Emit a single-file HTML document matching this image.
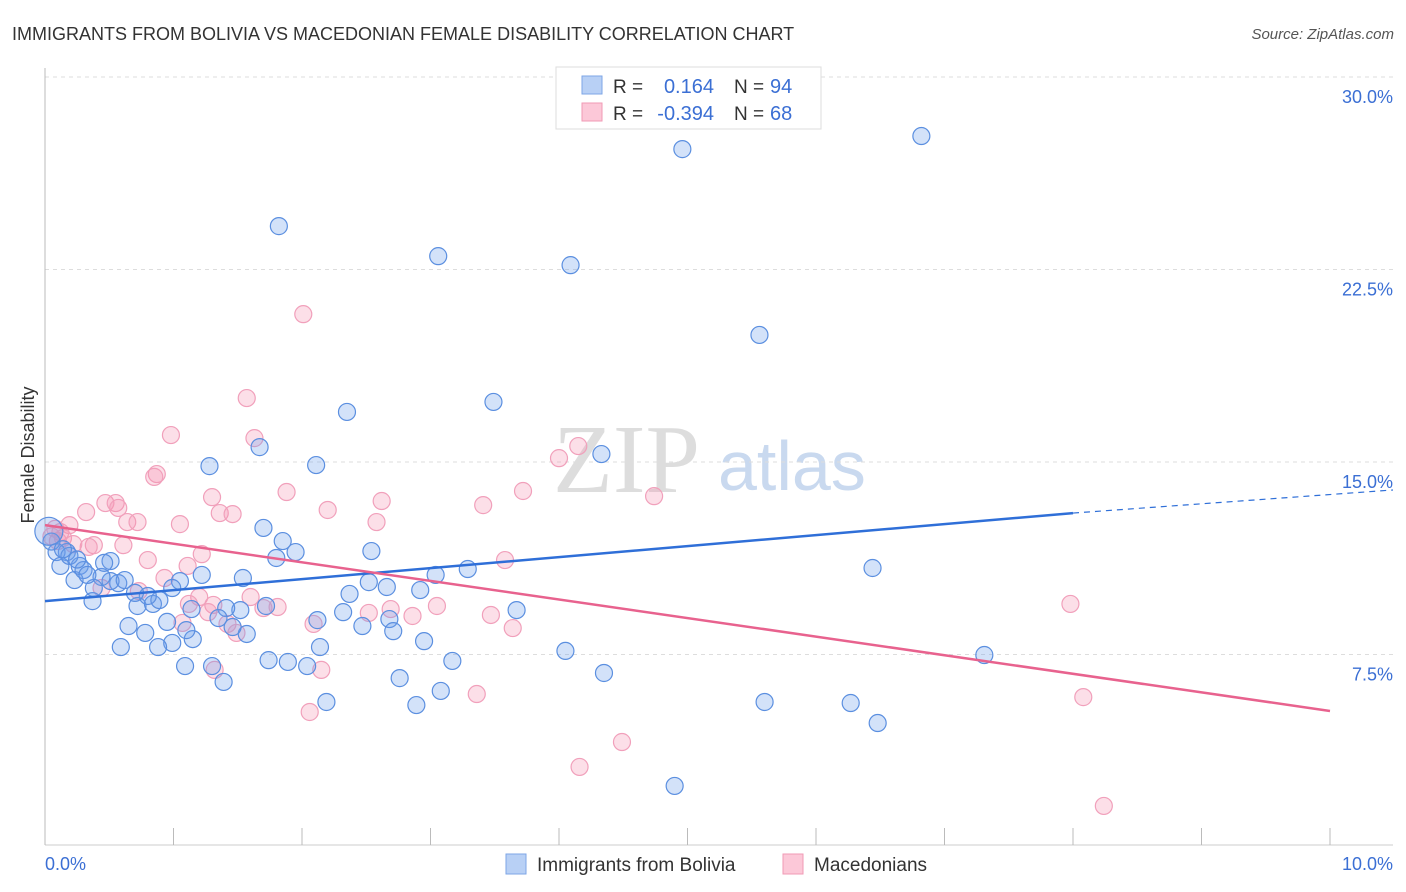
<!DOCTYPE html>
<html><head><meta charset="utf-8"><style>
body{margin:0;background:#fff;font-family:"Liberation Sans",sans-serif;}
svg{display:block}
</style></head><body>
<svg id="chart" width="1406" height="892" xmlns="http://www.w3.org/2000/svg">
<text x="12" y="40" font-size="18" fill="#333">IMMIGRANTS FROM BOLIVIA VS MACEDONIAN FEMALE DISABILITY CORRELATION CHART</text>
<text x="1394" y="39" font-size="15" fill="#555" font-style="italic" text-anchor="end">Source: ZipAtlas.com</text>
<g>
<text x="553" y="492" font-size="98" fill="#ddd" font-family="Liberation Serif,serif">ZIP</text>
<text x="718" y="490" font-size="70" fill="#c9d9ef">atlas</text>
</g>
<g id="grid"></g>
<g id="axes"></g>
<g id="pts"></g>
<g id="trend"></g>
<g>
<rect x="556" y="67" width="265" height="62" fill="#fff" stroke="#ddd"/>
<rect x="582" y="76" width="20" height="18" fill="#b8d0f5" stroke="#7ea6e6"/>
<rect x="582" y="103" width="20" height="18" fill="#fcc8d8" stroke="#f09ab5"/>
<text x="613" y="93" font-size="19" fill="#333">R =</text>
<text x="714" y="93" font-size="20" fill="#3b6fd4" text-anchor="end">0.164</text>
<text x="734" y="93" font-size="19" fill="#333">N =</text>
<text x="770" y="93" font-size="20" fill="#3b6fd4">94</text>
<text x="613" y="120" font-size="19" fill="#333">R =</text>
<text x="714" y="120" font-size="20" fill="#3b6fd4" text-anchor="end">-0.394</text>
<text x="734" y="120" font-size="19" fill="#333">N =</text>
<text x="770" y="120" font-size="20" fill="#3b6fd4">68</text>
</g>
<g>
<rect x="506" y="854" width="20" height="20" fill="#b8d0f5" stroke="#7ea6e6"/>
<text x="537" y="871" font-size="19" fill="#333">Immigrants from Bolivia</text>
<rect x="783" y="854" width="20" height="20" fill="#fcc8d8" stroke="#f09ab5"/>
<text x="814" y="871" font-size="19" fill="#333">Macedonians</text>
</g>
<text transform="translate(34,455) rotate(-90)" font-size="18" fill="#333" text-anchor="middle">Female Disability</text>
</svg>
<script>
const yTicks=[7.5,15,22.5,30];
const yTickLabels=["7.5%","15.0%","22.5%","30.0%"];
const xTicks=[0,1,2,3,4,5,6,7,8,9,10];
const xEndLabels=["0.0%","10.0%"];
const blueX=[1.82,3.06,4.09,4.96,6.82,5.56,2.35,3.49,4.33,1.28,1.67,2.11,1.70,1.85,1.95,1.80,2.54,6.44,3.29,3.04,1.54,1.22,1.05,2.52,2.66,2.92,2.37,3.67,2.32,2.12,2.47,2.68,2.71,2.95,2.14,3.17,4.05,7.31,1.74,1.89,2.04,2.76,3.08,4.35,2.89,2.19,5.60,6.27,6.48,4.90,1.30,1.39,1.09,1.52,1.41,1.72,1.57,1.46,1.35,1.14,1.15,1.10,0.99,0.88,0.95,0.78,0.65,0.59,0.72,0.84,0.89,0.80,0.99,0.57,0.51,0.44,0.51,0.37,0.38,0.23,0.27,0.30,0.17,0.09,0.12,0.19,0.46,0.05,0.14,0.25,0.33,0.62,0.70,0.03];
const blueY=[24.19,23.02,22.67,27.19,27.70,19.95,16.95,17.34,15.31,14.84,15.58,14.88,12.43,11.92,11.49,11.26,11.53,10.87,10.83,10.60,10.48,10.60,10.36,10.32,10.13,10.01,9.86,9.23,9.15,8.84,8.61,8.88,8.41,8.02,7.79,7.25,7.64,7.48,7.28,7.21,7.05,6.58,6.08,6.78,5.53,5.65,5.65,5.61,4.83,2.38,7.05,6.43,7.05,9.23,9.31,9.39,8.30,8.57,8.92,9.27,8.10,8.45,7.95,7.79,8.77,8.34,8.61,7.79,9.39,9.47,9.62,9.78,10.09,10.28,10.36,10.52,11.14,9.58,10.09,10.40,10.95,10.79,11.49,11.49,10.95,11.34,11.07,11.9,11.6,11.2,10.6,10.4,9.9,12.3];
const pinkX=[2.01,1.57,0.98,1.63,0.87,0.85,4.15,4.00,1.88,1.30,0.47,0.55,0.57,2.62,3.72,4.74,3.41,1.36,1.46,2.20,0.32,0.19,0.64,0.72,1.05,2.58,0.61,0.38,0.34,0.12,0.10,0.14,1.22,0.80,3.58,1.11,0.93,0.73,0.44,1.60,1.20,1.12,1.31,1.70,1.81,1.27,2.69,2.52,3.05,2.86,3.47,1.07,1.42,2.09,3.64,1.49,7.98,1.32,2.15,3.36,2.06,8.08,4.49,4.16,8.24,0.05,0.08,0.22];
const pinkY=[20.76,17.49,16.05,15.93,14.53,14.42,15.62,15.15,13.83,13.63,13.40,13.40,13.21,13.48,13.87,13.67,13.32,13.01,12.97,13.13,13.05,12.54,12.66,12.66,12.58,12.66,11.76,11.76,11.69,12.27,11.92,12.04,11.41,11.18,11.18,10.95,10.48,9.97,10.09,9.74,9.74,9.47,9.43,9.31,9.35,9.15,9.27,9.12,9.39,9.00,9.04,8.73,8.69,8.69,8.53,8.34,9.47,6.90,6.90,5.96,5.26,5.84,4.09,3.12,1.60,12.1,12.4,11.8];
const blueTrend=[9.58,13.01,13.91];
const blueTrendX=[0,8,10.49];
const pinkTrend=[12.54,5.30];
const pinkTrendX=[0,10];
const NS="http://www.w3.org/2000/svg";
const X=v=>45+v*128.5;
const Y=v=>847-v*25.667;
function mk(tag,attrs,parent){const e=document.createElementNS(NS,tag);for(const k in attrs)e.setAttribute(k,attrs[k]);document.getElementById(parent).appendChild(e);return e;}
yTicks.forEach((t,i)=>{
 const l=mk('line',{x1:45,x2:1393,y1:Y(t),y2:Y(t),stroke:'#ddd','stroke-dasharray':'4,4'},'grid');
 
 
 const tx=mk('text',{x:1393,y:Y(t)+26,'font-size':18,fill:'#3b6fd4','text-anchor':'end'},'grid');
 tx.textContent=yTickLabels[i];
 
 
});
let a=mk('line',{x1:45,x2:45,y1:68,y2:845,stroke:'#bbb'},'axes');


a=mk('line',{x1:45,x2:1393,y1:845,y2:845,stroke:'#ccc'},'axes');


xTicks.forEach(t=>{
 const l=mk('line',{x1:X(t),x2:X(t),y1:828,y2:845,stroke:'#bbb'},'axes');
 
 
});
let tl=mk('text',{x:45,y:870,'font-size':18,fill:'#3b6fd4'},'axes');tl.textContent=xEndLabels[0];


tl=mk('text',{x:1393,y:870,'font-size':18,fill:'#3b6fd4','text-anchor':'end'},'axes');tl.textContent=xEndLabels[1];


pinkX.forEach((x,i)=>{
 const c=mk('circle',{cx:X(x),cy:Y(pinkY[i]),r:8.5,fill:'rgba(244,150,180,0.3)',stroke:'#f1a0bb','stroke-width':1.2},'pts');
 
 
});
blueX.forEach((x,i)=>{
 const c=mk('circle',{cx:X(x),cy:Y(blueY[i]),r:i==blueX.length-1?14:8.5,fill:'rgba(110,160,235,0.3)',stroke:'#5b8fe0','stroke-width':1.2},'pts');
 
 
});
let t=mk('line',{x1:X(blueTrendX[0]),y1:Y(blueTrend[0]),x2:X(blueTrendX[1]),y2:Y(blueTrend[1]),stroke:'#2f6fd8','stroke-width':2.5},'trend');


t=mk('line',{x1:X(blueTrendX[1]),y1:Y(blueTrend[1]),x2:X(blueTrendX[2]),y2:Y(blueTrend[2]),stroke:'#2f6fd8','stroke-width':1.2,'stroke-dasharray':'6,5'},'trend');


t=mk('line',{x1:X(pinkTrendX[0]),y1:Y(pinkTrend[0]),x2:X(pinkTrendX[1]),y2:Y(pinkTrend[1]),stroke:'#e8628e','stroke-width':2.5},'trend');


</script>
</body></html>
